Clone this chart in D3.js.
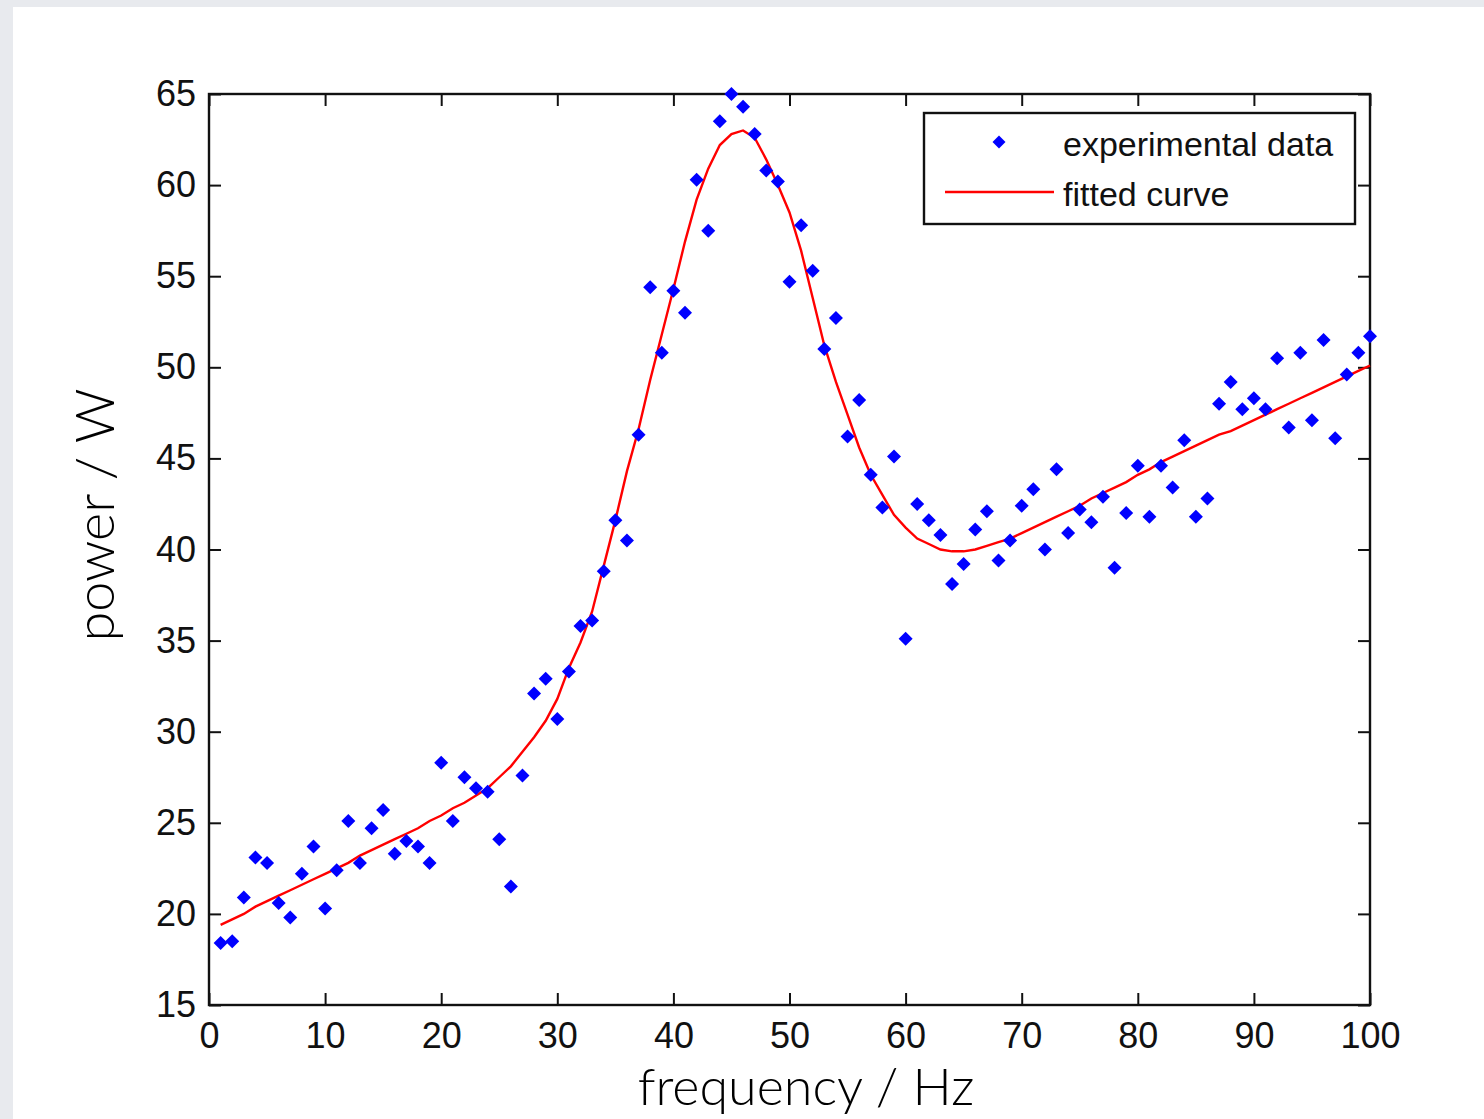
<!DOCTYPE html>
<html>
<head>
<meta charset="utf-8">
<script src="https://cdn.jsdelivr.net/npm/d3@7"></script>
<style>
  html, body { margin: 0; padding: 0; background: #e8eaee; }
  svg { display: block; }
</style>
</head>
<body>
<svg id="chart" width="1484" height="1119"></svg>
<script>
// ---- data ----
const frequencies = d3.range(1, 101);
const experimentalPower = [
  18.4, 18.5, 20.9, 23.1, 22.8, 20.6, 19.8, 22.2, 23.7, 20.3,
  22.4, 25.1, 22.8, 24.7, 25.7, 23.3, 24.0, 23.7, 22.8, 28.3,
  25.1, 27.5, 26.9, 26.7, 24.1, 21.5, 27.6, 32.1, 32.9, 30.7,
  33.3, 35.8, 36.1, 38.8, 41.6, 40.5, 46.3, 54.4, 50.8, 54.2,
  53.0, 60.3, 57.5, 63.5, 65.0, 64.3, 62.8, 60.8, 60.2, 54.7,
  57.8, 55.3, 51.0, 52.7, 46.2, 48.2, 44.1, 42.3, 45.1, 35.1,
  42.5, 41.6, 40.8, 38.1, 39.2, 41.1, 42.1, 39.4, 40.5, 42.4,
  43.3, 40.0, 44.4, 40.9, 42.2, 41.5, 42.9, 39.0, 42.0, 44.6,
  41.8, 44.6, 43.4, 46.0, 41.8, 42.8, 48.0, 49.2, 47.7, 48.3,
  47.7, 50.5, 46.7, 50.8, 47.1, 51.5, 46.1, 49.6, 50.8, 51.7
];
const fittedPower = [
  19.4, 19.7, 20.0, 20.4, 20.7, 21.0, 21.3, 21.6, 21.9, 22.2,
  22.5, 22.8, 23.2, 23.5, 23.8, 24.1, 24.4, 24.7, 25.1, 25.4,
  25.8, 26.1, 26.5, 26.9, 27.5, 28.1, 28.9, 29.7, 30.6, 31.8,
  33.5, 34.9, 36.6, 39.1, 41.6, 44.3, 46.6, 49.3, 51.8, 54.3,
  56.9, 59.2, 60.9, 62.2, 62.8, 63.0, 62.6, 61.4, 60.0, 58.5,
  56.4, 53.8, 51.2, 49.2, 47.4, 45.6, 44.1, 43.0, 41.9, 41.2,
  40.6, 40.3, 40.0, 39.9, 39.9, 40.0, 40.2, 40.4, 40.6, 40.9,
  41.2, 41.5, 41.8, 42.1, 42.4, 42.8, 43.1, 43.4, 43.7, 44.1,
  44.4, 44.8, 45.1, 45.4, 45.7, 46.0, 46.3, 46.5, 46.8, 47.1,
  47.4, 47.7, 48.0, 48.3, 48.6, 48.9, 49.2, 49.5, 49.8, 50.1
];
const xTicks = [0, 10, 20, 30, 40, 50, 60, 70, 80, 90, 100];
const yTicks = [15, 20, 25, 30, 35, 40, 45, 50, 55, 60, 65];
const legendLabels = ["experimental data", "fitted curve"];
const xLabel = "frequency / Hz";
const yLabel = "power / W";

// ---- layout ----
const svg = d3.select("#chart");
const plot = { left: 209, right: 1370, top: 94, bottom: 1005 };

svg.append("rect").attr("x", 0).attr("y", 0).attr("width", 1484).attr("height", 1119).attr("fill", "#e8eaee");
svg.append("rect").attr("x", 13).attr("y", 7).attr("width", 1471).attr("height", 1112).attr("fill", "#ffffff");

const x = d3.scaleLinear().domain([0, 100]).range([plot.left, plot.right]);
const y = d3.scaleLinear().domain([15, 65]).range([plot.bottom, plot.top]);

const tickFont = "'Liberation Sans Narrow', 'Liberation Sans', Arial, sans-serif";

function styleAxis(g) {
  g.select(".domain").remove();
  g.selectAll(".tick line").attr("stroke", "#111").attr("stroke-width", 2);
  g.selectAll(".tick text")
    .attr("fill", "#111")
    .style("font-family", tickFont)
    .style("font-size", "36px");
}

svg.append("g").attr("transform", `translate(0,${plot.bottom})`)
  .call(d3.axisBottom(x).tickValues(xTicks).tickSize(-12).tickPadding(17).tickFormat(d3.format("d")))
  .call(styleAxis);
svg.append("g").attr("transform", `translate(0,${plot.top})`)
  .call(d3.axisTop(x).tickValues(xTicks).tickSize(-12).tickFormat(""))
  .call(styleAxis);
svg.append("g").attr("transform", `translate(${plot.left},0)`)
  .call(d3.axisLeft(y).tickValues(yTicks).tickSize(-12).tickPadding(13).tickFormat(d3.format("d")))
  .call(styleAxis);
svg.append("g").attr("transform", `translate(${plot.right},0)`)
  .call(d3.axisRight(y).tickValues(yTicks).tickSize(-12).tickFormat(""))
  .call(styleAxis);

// frame
svg.append("rect")
  .attr("x", plot.left).attr("y", plot.top)
  .attr("width", plot.right - plot.left).attr("height", plot.bottom - plot.top)
  .attr("fill", "none").attr("stroke", "#111").attr("stroke-width", 2.4);

// fitted curve
const line = d3.line().x((d, i) => x(frequencies[i])).y(d => y(d));
svg.append("path").datum(fittedPower)
  .attr("d", line).attr("fill", "none").attr("stroke", "#ff0000").attr("stroke-width", 2.4);

// data points (diamonds)
const sq = 7;
svg.append("g").selectAll("path").data(experimentalPower).join("path")
  .attr("d", `M0,${-sq}L${sq},0L0,${sq}L${-sq},0Z`)
  .attr("transform", (d, i) => `translate(${x(frequencies[i])},${y(d)})`)
  .attr("fill", "#0000ff");

// legend
const lg = svg.append("g");
lg.append("rect").attr("x", 924).attr("y", 113).attr("width", 431).attr("height", 111)
  .attr("fill", "#fff").attr("stroke", "#111").attr("stroke-width", 2.4);
lg.append("path").attr("d", `M0,-6.5L6.5,0L0,6.5L-6.5,0Z`).attr("transform", "translate(999,142)").attr("fill", "#0000ff");
lg.append("line").attr("x1", 945).attr("x2", 1054).attr("y1", 192).attr("y2", 192)
  .attr("stroke", "#ff0000").attr("stroke-width", 2.4);
lg.selectAll("text").data(legendLabels).join("text")
  .attr("x", 1063).attr("y", (d, i) => 156 + i * 50)
  .attr("fill", "#111")
  .style("font-family", tickFont).style("font-size", "34px")
  .text(d => d);

// axis labels
svg.append("text")
  .attr("x", 806).attr("y", 1105).attr("text-anchor", "middle")
  .attr("fill", "#000")
  .style("font-family", "Lato, 'Open Sans', sans-serif").style("font-weight", 300).style("font-size", "52px")
  .text(xLabel);
svg.append("text")
  .attr("transform", "translate(114,515) rotate(-90)").attr("text-anchor", "middle")
  .attr("fill", "#000")
  .style("font-family", "Lato, 'Open Sans', sans-serif").style("font-weight", 300).style("font-size", "54px")
  .text(yLabel);
</script>
</body>
</html>
